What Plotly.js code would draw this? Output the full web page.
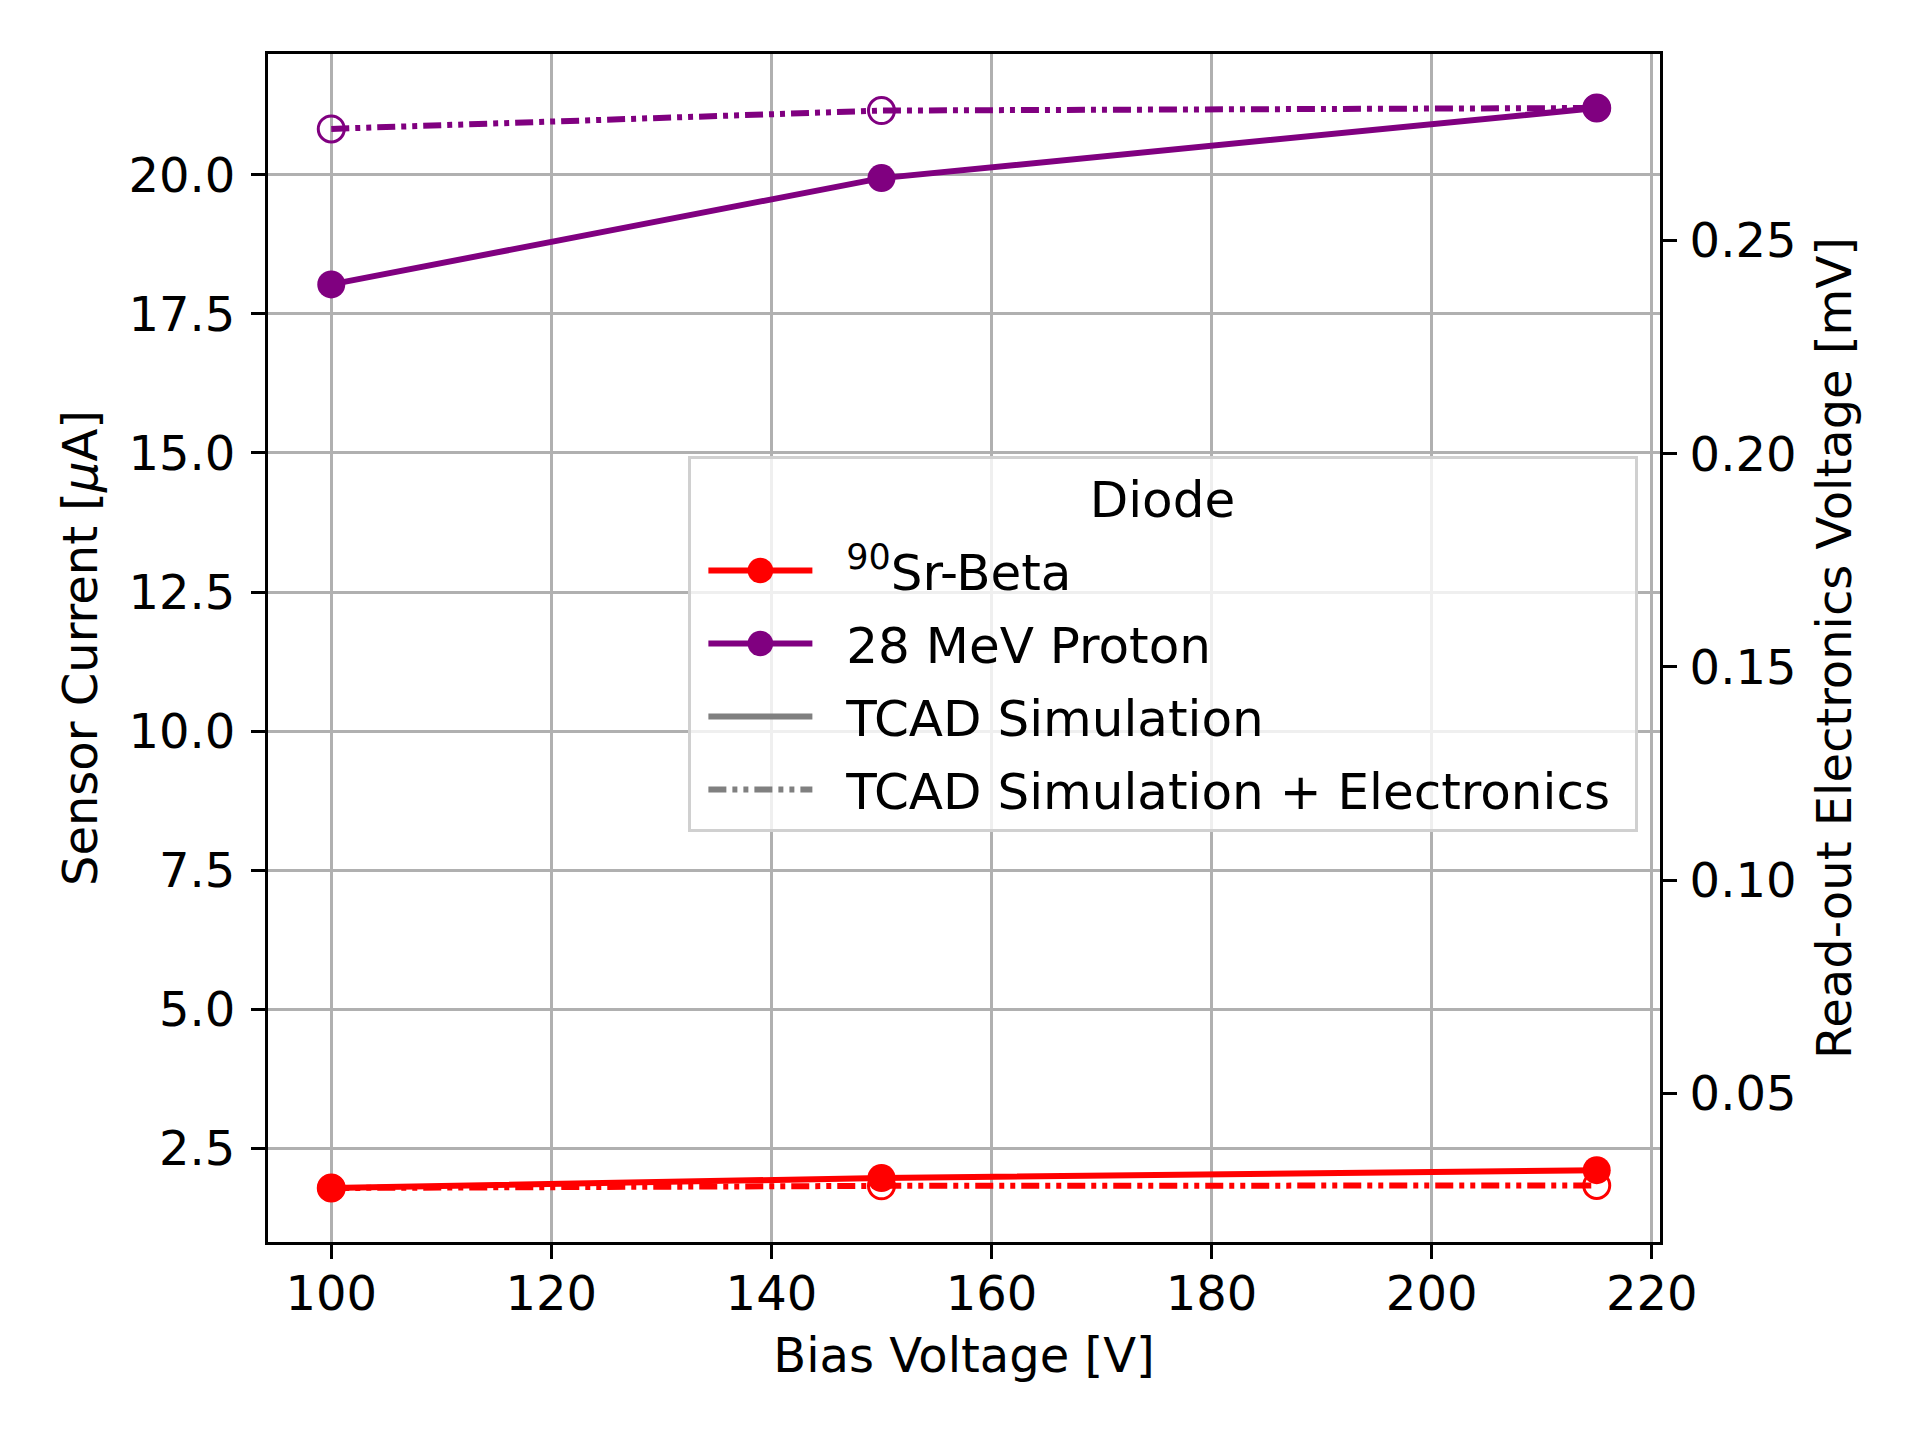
<!DOCTYPE html>
<html>
<head>
<meta charset="utf-8">
<script src="https://cdn.plot.ly/plotly-3.0.1.min.js"></script>
<style>
  body { margin: 0; background: #fff; }
  #chart { width: 1920px; height: 1440px; }
</style>
</head>
<body>
<div id="chart"></div>
<script>
// bias voltages [V]
var bias = [100, 150, 215];

// TCAD simulation, sensor current [uA]
var srCurrent = [1.79, 1.97, 2.11];
var protonCurrent = [18.03, 19.94, 21.20];

// TCAD simulation + electronics, read-out voltage [mV]
var srVoltage = [0.0278, 0.0283, 0.0284];
var protonVoltage = [0.2762, 0.2805, 0.2811];

var red = '#ff0000', purple = '#800080', grey = '#808080';
var dashDotDot = '18px,6px,5px,6px,5px,6px';
var font = 'DejaVu Sans, sans-serif';
var fs = 48, legendFs = 50;
var gap = '\u2002\u00a0'; // space between legend symbol and text

// matplotlib style 5% padding
function pad(arrs) {
	var all = [].concat.apply([], arrs);
	var lo = Math.min.apply(null, all), hi = Math.max.apply(null, all);
	var m = (hi - lo) * 0.05;
	return [lo - m, hi + m];
}

var traces = [
	// legend title as a symbol-less first row (same spacing as the rows below)
	{
		x: [null], y: [null], name: gap + '\u00a0'.repeat(15) + '\u200aDiode', legendgroup: 'title',
		type: 'scatter', mode: 'lines',
		line: {color: 'rgba(0,0,0,0)', width: 0}
	},
	{
		x: bias, y: srCurrent, name: gap + '<sup>90</sup>Sr-Beta', legendgroup: 'a',
		type: 'scatter', mode: 'lines+markers',
		line: {color: red, width: 6},
		marker: {color: red, size: 28}
	},
	{
		x: bias, y: protonCurrent, name: gap + '28 MeV Proton', legendgroup: 'b',
		type: 'scatter', mode: 'lines+markers',
		line: {color: purple, width: 6},
		marker: {color: purple, size: 28}
	},
	{
		x: bias, y: srVoltage, yaxis: 'y2', showlegend: false, legendgroup: 'a',
		type: 'scatter', mode: 'lines+markers',
		line: {color: red, width: 6, dash: dashDotDot},
		marker: {symbol: 'circle-open', color: red, size: 26, line: {width: 3, color: red}}
	},
	{
		x: bias, y: protonVoltage, yaxis: 'y2', showlegend: false, legendgroup: 'b',
		type: 'scatter', mode: 'lines+markers',
		line: {color: purple, width: 6, dash: dashDotDot},
		marker: {symbol: 'circle-open', color: purple, size: 26, line: {width: 3, color: purple}}
	},
	// legend-only entries for the line styles
	{
		x: [null], y: [null], name: gap + 'TCAD Simulation', legendgroup: 'c',
		type: 'scatter', mode: 'lines',
		line: {color: grey, width: 6}
	},
	{
		x: [null], y: [null], name: gap + 'TCAD Simulation + Electronics\u2009\u2009', legendgroup: 'd',
		type: 'scatter', mode: 'lines',
		line: {color: grey, width: 6, dash: dashDotDot}
	}
];

var axisCommon = {
	showline: true, linecolor: '#000', linewidth: 3,
	ticks: 'outside', ticklen: 14, tickwidth: 3, tickcolor: '#000',
	tickfont: {family: font, size: fs, color: '#000'},
	zeroline: false
};

var layout = {
	width: 1920,
	height: 1440,
	margin: {l: 268, r: 260, t: 54, b: 198, pad: 0},
	paper_bgcolor: '#fff',
	plot_bgcolor: '#fff',
	font: {family: font, size: fs, color: '#000'},
	showlegend: true,
	xaxis: Object.assign({}, axisCommon, {
		range: pad([bias]),
		dtick: 20,
		mirror: true,
		ticklabelstandoff: -7,
		showgrid: true, gridcolor: '#b0b0b0', gridwidth: 3,
		title: {text: 'Bias Voltage [V]', font: {family: font, size: fs}, standoff: 19}
	}),
	yaxis: Object.assign({}, axisCommon, {
		range: pad([srCurrent, protonCurrent]),
		dtick: 2.5,
		tickformat: '.1f',
		ticklabelstandoff: 6,
		showgrid: true, gridcolor: '#b0b0b0', gridwidth: 3,
		title: {text: 'Sensor Current [<i>μ</i>A]', font: {family: font, size: fs}, standoff: 16}
	}),
	yaxis2: Object.assign({}, axisCommon, {
		overlaying: 'y',
		side: 'right',
		range: pad([srVoltage, protonVoltage]),
		dtick: 0.05,
		tickformat: '.2f',
		ticklabelstandoff: 3,
		showgrid: false,
		title: {text: 'Read-out Electronics Voltage [mV]', font: {family: font, size: fs}, standoff: 22}
	}),
	legend: {
		x: 0.302, y: 0.662, xanchor: 'left', yanchor: 'top',
		bgcolor: 'rgba(255,255,255,0.8)',
		bordercolor: '#d0d0d0', borderwidth: 3,
		font: {family: font, size: legendFs, color: '#000'},
		traceorder: 'grouped',
		tracegroupgap: 5,
		itemwidth: 104
	}
};

Plotly.newPlot('chart', traces, layout, {displayModeBar: false, staticPlot: true}).then(function(gd) {
	// legend markers are capped in size, blow them up to match the plot markers,
	// and nudge the symbols a little to the right inside the box
	gd.querySelectorAll('.legend path.scatterpts').forEach(function(p) {
		var t = p.getAttribute('transform') || '';
		p.setAttribute('transform', 'translate(12,0) ' + t + ' scale(1.6)');
	});
	gd.querySelectorAll('.legend .legendlines path').forEach(function(p) {
		p.setAttribute('transform', 'translate(12,0)');
	});
});
</script>
</body>
</html>
